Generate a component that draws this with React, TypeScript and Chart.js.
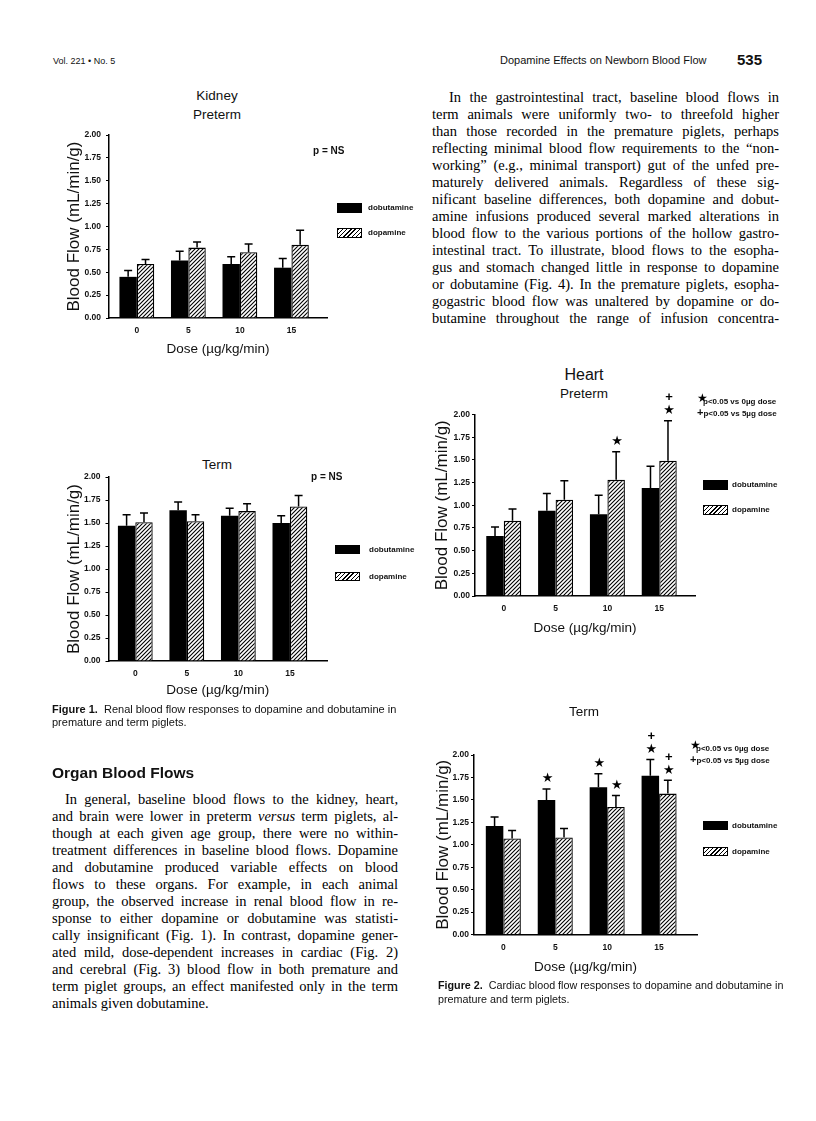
import React, { useEffect, useRef } from 'react';
import { Chart, registerables } from 'chart.js';

Chart.register(...registerables);

// ---------- data ----------
const doseLabels = ['0', '5', '10', '15'];
const yTickValues = [0, 0.25, 0.5, 0.75, 1, 1.25, 1.5, 1.75, 2];
const seriesNames = ['dobutamine', 'dopamine'];

const kidneyPretermDobutamine = [0.45, 0.63, 0.59, 0.55];
const kidneyPretermDobutamineErr = [0.07, 0.1, 0.08, 0.1];
const kidneyPretermDopamine = [0.59, 0.77, 0.72, 0.8];
const kidneyPretermDopamineErr = [0.05, 0.06, 0.09, 0.16];

const kidneyTermDobutamine = [1.47, 1.64, 1.58, 1.5];
const kidneyTermDobutamineErr = [0.12, 0.09, 0.08, 0.08];
const kidneyTermDopamine = [1.51, 1.52, 1.63, 1.68];
const kidneyTermDopamineErr = [0.1, 0.07, 0.08, 0.12];

const heartPretermDobutamine = [0.66, 0.94, 0.9, 1.19];
const heartPretermDobutamineErr = [0.1, 0.19, 0.21, 0.24];
const heartPretermDopamine = [0.83, 1.06, 1.28, 1.49];
const heartPretermDopamineErr = [0.13, 0.21, 0.31, 0.44];
const heartPretermDobutamineMarks = ['', '', '', ''];
const heartPretermDopamineMarks = ['', '', '*', '*+'];

const heartTermDobutamine = [1.21, 1.5, 1.64, 1.77];
const heartTermDobutamineErr = [0.1, 0.12, 0.15, 0.18];
const heartTermDopamine = [1.07, 1.08, 1.42, 1.57];
const heartTermDopamineErr = [0.09, 0.1, 0.13, 0.15];
const heartTermDobutamineMarks = ['', '*', '*', '*+'];
const heartTermDopamineMarks = ['', '', '*', '*+'];

const noMarks = ['', '', '', ''];

// ---------- text (segments between * are italic) ----------
const rightColumnLines = [
  'In the gastrointestinal tract, baseline blood flows in',
  'term animals were uniformly two- to threefold higher',
  'than those recorded in the premature piglets, perhaps',
  'reflecting minimal blood flow requirements to the \u201cnon-',
  'working\u201d (e.g., minimal transport) gut of the unfed pre-',
  'maturely delivered animals. Regardless of these sig-',
  'nificant baseline differences, both dopamine and dobut-',
  'amine infusions produced several marked alterations in',
  'blood flow to the various portions of the hollow gastro-',
  'intestinal tract. To illustrate, blood flows to the esopha-',
  'gus and stomach changed little in response to dopamine',
  'or dobutamine (Fig. 4). In the premature piglets, esopha-',
  'gogastric blood flow was unaltered by dopamine or do-',
  'butamine throughout the range of infusion concentra-',
];

const leftColumnLines = [
  'In general, baseline blood flows to the kidney, heart,',
  'and brain were lower in preterm *versus* term piglets, al-',
  'though at each given age group, there were no within-',
  'treatment differences in baseline blood flows. Dopamine',
  'and dobutamine produced variable effects on blood',
  'flows to these organs. For example, in each animal',
  'group, the observed increase in renal blood flow in re-',
  'sponse to either dopamine or dobutamine was statisti-',
  'cally insignificant (Fig. 1). In contrast, dopamine gener-',
  'ated mild, dose-dependent increases in cardiac (Fig. 2)',
  'and cerebral (Fig. 3) blood flow in both premature and',
  'term piglet groups, an effect manifested only in the term',
  'animals given dobutamine.',
];

const SANS = '"Liberation Sans", Arial, Helvetica, sans-serif';
const SERIF = '"Liberation Serif", "Times New Roman", serif';
const BODY_SIZE = 14.5;

let measureCtx: CanvasRenderingContext2D | null = null;
function measure(s: string, italic: boolean) {
  if (!measureCtx) measureCtx = document.createElement('canvas').getContext('2d');
  measureCtx!.font = `${italic ? 'italic ' : ''}${BODY_SIZE}px "Liberation Serif"`;
  return measureCtx!.measureText(s).width;
}

// ---------- chart helpers ----------
function makeHatch(ctx: CanvasRenderingContext2D) {
  const t = document.createElement('canvas');
  t.width = 4;
  t.height = 4;
  const g = t.getContext('2d')!;
  g.fillStyle = '#fff';
  g.fillRect(0, 0, 4, 4);
  g.strokeStyle = '#000';
  g.lineWidth = 1.1;
  g.beginPath();
  g.moveTo(0, 4);
  g.lineTo(4, 0);
  g.moveTo(-1, 1);
  g.lineTo(1, -1);
  g.moveTo(3, 5);
  g.lineTo(5, 3);
  g.stroke();
  return ctx.createPattern(t, 'repeat');
}

const errorBarPlugin = {
  id: 'errorBars',
  afterDatasetsDraw(chart: any) {
    const { ctx } = chart;
    const y = chart.scales.y;
    chart.data.datasets.forEach((ds: any, di: number) => {
      const meta = chart.getDatasetMeta(di);
      meta.data.forEach((bar: any, i: number) => {
        const v = ds.data[i].y;
        const top = y.getPixelForValue(v + ds.errors[i]);
        ctx.save();
        ctx.strokeStyle = '#000';
        ctx.lineWidth = 1.5;
        ctx.beginPath();
        ctx.moveTo(bar.x, bar.y);
        ctx.lineTo(bar.x, top);
        ctx.moveTo(bar.x - 4, top);
        ctx.lineTo(bar.x + 4, top);
        ctx.stroke();
        const marks: string = (ds.marks && ds.marks[i]) || '';
        let yy = top - 10;
        ctx.fillStyle = '#000';
        ctx.textAlign = 'center';
        ctx.textBaseline = 'middle';
        for (const m of marks) {
          if (m === '*') {
            ctx.font = '13px "DejaVu Sans"';
            ctx.fillText('\u2605', bar.x + 1, yy);
          } else {
            ctx.font = 'bold 13px "Liberation Sans"';
            ctx.fillText('+', bar.x + 1, yy);
          }
          yy -= 13;
        }
        ctx.restore();
      });
    });
  },
};

type Layout = {
  canvasLeft: number;
  canvasTop: number;
  canvasBottom: number;
  plotLeft: number;
  plotRight: number;
  plotTop: number;
  plotBottom: number;
  xMin: number;
  xMax: number;
  doseY: number;
  yTitleX: number;
  yTickPad: number;
  xTickPad: number;
};

function BarPanel(props: {
  layout: Layout;
  dobutamine: number[];
  dobutamineErr: number[];
  dopamine: number[];
  dopamineErr: number[];
  dobutamineMarks: string[];
  dopamineMarks: string[];
}) {
  const ref = useRef<HTMLCanvasElement>(null);
  const L = props.layout;
  const rightPad = 13;
  const width = L.plotRight + rightPad - L.canvasLeft;
  const height = L.canvasBottom - L.canvasTop;

  useEffect(() => {
    const canvas = ref.current!;
    const ctx = canvas.getContext('2d')!;
    const hatch = makeHatch(ctx);
    const tickFont = { family: SANS, size: 8.5, weight: 'bold' as const };
    const chart = new Chart(canvas, {
      type: 'bar',
      data: {
        datasets: [
          {
            label: seriesNames[0],
            data: props.dobutamine.map((v, i) => ({ x: i, y: v })),
            backgroundColor: '#000',
            borderColor: '#000',
            borderWidth: 0,
            errors: props.dobutamineErr,
            marks: props.dobutamineMarks,
          } as any,
          {
            label: seriesNames[1],
            data: props.dopamine.map((v, i) => ({ x: i, y: v })),
            backgroundColor: hatch,
            borderColor: '#000',
            borderWidth: 1.3,
            errors: props.dopamineErr,
            marks: props.dopamineMarks,
          } as any,
        ],
      },
      options: {
        animation: false,
        responsive: false,
        maintainAspectRatio: false,
        events: [],
        layout: { padding: { top: L.plotTop - L.canvasTop, right: rightPad, left: 0, bottom: 0 } },
        datasets: { bar: { categoryPercentage: 0.675, barPercentage: 1 } },
        plugins: { legend: { display: false }, tooltip: { enabled: false } },
        scales: {
          x: {
            type: 'linear',
            offset: false,
            min: L.xMin,
            max: L.xMax,
            afterBuildTicks: (s: any) => {
              s.ticks = doseLabels.map((_, i) => ({ value: i }));
            },
            afterFit: (s: any) => {
              s.height = L.canvasBottom - L.plotBottom;
            },
            ticks: {
              autoSkip: false,
              maxRotation: 0,
              color: '#111',
              font: tickFont,
              padding: L.xTickPad,
              callback: (v: any) => doseLabels[Math.round(v)] ?? '',
            },
            grid: { display: false, drawTicks: false, offset: false },
            border: { display: true, color: '#000', width: 1.5 },
            title: {
              display: true,
              text: 'Dose (\u00b5g/kg/min)',
              color: '#111',
              font: { family: SANS, size: 13.5 },
              padding: { top: 0, bottom: L.canvasBottom - L.doseY - 8.1 },
            },
          },
          y: {
            type: 'linear',
            min: 0,
            max: 2,
            afterBuildTicks: (s: any) => {
              s.ticks = yTickValues.map((v) => ({ value: v }));
            },
            afterFit: (s: any) => {
              s.width = L.plotLeft - L.canvasLeft;
            },
            ticks: {
              color: '#111',
              font: tickFont,
              padding: L.yTickPad,
              callback: (v: any) => Number(v).toFixed(2),
            },
            grid: { drawOnChartArea: false, drawTicks: true, tickLength: 3, color: '#000', lineWidth: 1 },
            border: { display: true, color: '#000', width: 1.5 },
            title: {
              display: true,
              text: 'Blood Flow (mL/min/g)',
              color: '#111',
              font: { family: SANS, size: 17 },
              padding: { top: L.yTitleX - L.canvasLeft - 10.2, bottom: 0 },
            },
          },
        },
      } as any,
      plugins: [errorBarPlugin],
    });
    return () => chart.destroy();
  }, []);

  return (
    <canvas
      ref={ref}
      width={width}
      height={height}
      style={{ position: 'absolute', left: L.canvasLeft, top: L.canvasTop, width, height }}
    />
  );
}

// ---------- html helpers ----------
function T(p: {
  x: number;
  y: number;
  size: number;
  bold?: boolean;
  center?: boolean;
  family?: string;
  children: React.ReactNode;
}) {
  return (
    <div
      style={{
        position: 'absolute',
        left: p.x,
        top: p.y - p.size * 0.6,
        fontSize: p.size,
        lineHeight: `${p.size * 1.2}px`,
        fontFamily: p.family || SANS,
        fontWeight: p.bold ? 'bold' : 'normal',
        whiteSpace: 'nowrap',
        color: '#111',
        transform: p.center ? 'translateX(-50%)' : undefined,
      }}
    >
      {p.children}
    </div>
  );
}

function Legend(p: { x: number; y1: number; y2: number; h: number; labelX: number }) {
  const box = (top: number, hatched: boolean) => (
    <div
      style={{
        position: 'absolute',
        left: p.x,
        top,
        width: 25,
        height: p.h,
        boxSizing: 'border-box',
        border: '1px solid #000',
        background: hatched
          ? 'repeating-linear-gradient(135deg, #000 0px, #000 1px, #fff 1px, #fff 3px)'
          : '#000',
      }}
    />
  );
  return (
    <>
      {box(p.y1, false)}
      {box(p.y2, true)}
      <T x={p.labelX} y={p.y1 + p.h / 2} size={8} bold>
        {seriesNames[0]}
      </T>
      <T x={p.labelX} y={p.y2 + p.h / 2} size={8} bold>
        {seriesNames[1]}
      </T>
    </>
  );
}

function SigKey(p: { x: number; y: number }) {
  return (
    <>
      <div
        style={{
          position: 'absolute',
          left: p.x,
          top: p.y - 9,
          fontSize: 12,
          lineHeight: '14px',
          fontFamily: '"DejaVu Sans"',
          color: '#000',
        }}
      >
        {'\u2605'}
      </div>
      <T x={p.x + 6} y={p.y + 2} size={8} bold>
        p&lt;0.05 vs 0µg dose
      </T>
      <T x={p.x} y={p.y + 13} size={8} bold>
        <span style={{ fontSize: 11 }}>+</span>p&lt;0.05 vs 5µg dose
      </T>
    </>
  );
}

function JLine(p: { x: number; y: number; w: number; indent: number; last?: boolean; text: string }) {
  const parts = p.text.split('*');
  const natural = parts.reduce((acc, s, i) => acc + measure(s, i % 2 === 1), 0);
  const spaces = (p.text.match(/ /g) || []).length;
  const avail = p.w - p.indent;
  const ws = p.last || spaces === 0 ? 0 : (avail - natural) / spaces;
  return (
    <div
      style={{
        position: 'absolute',
        left: p.x + p.indent,
        top: p.y - 9,
        width: avail + 20,
        fontFamily: SERIF,
        fontSize: BODY_SIZE,
        lineHeight: '18px',
        whiteSpace: 'pre',
        wordSpacing: `${ws}px`,
        color: '#000',
      }}
    >
      {parts.map((s, i) => (i % 2 === 1 ? <i key={i}>{s}</i> : <span key={i}>{s}</span>))}
    </div>
  );
}

// ---------- layouts ----------
const kidneyPretermLayout: Layout = {
  canvasLeft: 55, canvasTop: 125, canvasBottom: 362,
  plotLeft: 109, plotRight: 327, plotTop: 135, plotBottom: 318,
  xMin: -0.54, xMax: 3.69, doseY: 349, yTitleX: 74.5, yTickPad: 5, xTickPad: 8,
};
const kidneyTermLayout: Layout = {
  canvasLeft: 55, canvasTop: 467, canvasBottom: 705,
  plotLeft: 108.5, plotRight: 327, plotTop: 477, plotBottom: 661,
  xMin: -0.52, xMax: 3.72, doseY: 690, yTitleX: 74.5, yTickPad: 5, xTickPad: 8,
};
const heartPretermLayout: Layout = {
  canvasLeft: 423, canvasTop: 380, canvasBottom: 641,
  plotLeft: 475, plotRight: 695, plotTop: 414.5, plotBottom: 596,
  xMin: -0.555, xMax: 3.69, doseY: 628, yTitleX: 442, yTickPad: 2, xTickPad: 8,
};
const heartTermLayout: Layout = {
  canvasLeft: 423, canvasTop: 722, canvasBottom: 981,
  plotLeft: 474, plotRight: 697, plotTop: 755, plotBottom: 934.5,
  xMin: -0.565, xMax: 3.73, doseY: 967, yTitleX: 443, yTickPad: 2, xTickPad: 8,
};

export default function App() {
  return (
    <div
      style={{
        position: 'absolute',
        left: 0,
        top: 0,
        width: 816,
        height: 1121,
        background: '#fff',
        overflow: 'hidden',
      }}
    >
      {/* running head */}
      <T x={53} y={61} size={9}>Vol. 221 • No. 5</T>
      <T x={500} y={61} size={11}>Dopamine Effects on Newborn Blood Flow</T>
      <T x={737} y={60} size={15} bold>535</T>

      {/* Figure 1 */}
      <T x={217} y={96} size={13.5} center>Kidney</T>
      <T x={217} y={115} size={13.5} center>Preterm</T>
      <BarPanel
        layout={kidneyPretermLayout}
        dobutamine={kidneyPretermDobutamine}
        dobutamineErr={kidneyPretermDobutamineErr}
        dopamine={kidneyPretermDopamine}
        dopamineErr={kidneyPretermDopamineErr}
        dobutamineMarks={noMarks}
        dopamineMarks={noMarks}
      />
      <T x={313} y={151} size={10} bold>p = NS</T>
      <Legend x={337} y1={203} y2={228} h={10} labelX={368} />

      <T x={217} y={465} size={13.5} center>Term</T>
      <BarPanel
        layout={kidneyTermLayout}
        dobutamine={kidneyTermDobutamine}
        dobutamineErr={kidneyTermDobutamineErr}
        dopamine={kidneyTermDopamine}
        dopamineErr={kidneyTermDopamineErr}
        dobutamineMarks={noMarks}
        dopamineMarks={noMarks}
      />
      <T x={311} y={477} size={10} bold>p = NS</T>
      <Legend x={335} y1={545} y2={572} h={9} labelX={369} />

      <T x={52} y={710} size={11}>
        <b>Figure 1.</b>&nbsp; Renal blood flow responses to dopamine and dobutamine in
      </T>
      <T x={52} y={723} size={11}>premature and term piglets.</T>

      {/* Organ Blood Flows */}
      <T x={52} y={773} size={15.5} bold>Organ Blood Flows</T>
      {leftColumnLines.map((line, i) => (
        <JLine
          key={'l' + i}
          x={52}
          y={799 + i * 17}
          w={346}
          indent={i === 0 ? 13 : 0}
          last={i === leftColumnLines.length - 1}
          text={line}
        />
      ))}

      {/* right column text */}
      {rightColumnLines.map((line, i) => (
        <JLine key={'r' + i} x={432} y={97 + i * 17} w={347} indent={i === 0 ? 17 : 0} text={line} />
      ))}

      {/* Figure 2 */}
      <T x={584} y={375} size={16} center>Heart</T>
      <T x={584} y={394} size={13.5} center>Preterm</T>
      <BarPanel
        layout={heartPretermLayout}
        dobutamine={heartPretermDobutamine}
        dobutamineErr={heartPretermDobutamineErr}
        dopamine={heartPretermDopamine}
        dopamineErr={heartPretermDopamineErr}
        dobutamineMarks={heartPretermDobutamineMarks}
        dopamineMarks={heartPretermDopamineMarks}
      />
      <SigKey x={697} y={400} />
      <Legend x={703} y1={480} y2={505} h={10} labelX={732} />

      <T x={584} y={712} size={13.5} center>Term</T>
      <BarPanel
        layout={heartTermLayout}
        dobutamine={heartTermDobutamine}
        dobutamineErr={heartTermDobutamineErr}
        dopamine={heartTermDopamine}
        dopamineErr={heartTermDopamineErr}
        dobutamineMarks={heartTermDobutamineMarks}
        dopamineMarks={heartTermDopamineMarks}
      />
      <SigKey x={690} y={747} />
      <Legend x={703} y1={821} y2={847} h={9} labelX={732} />

      <T x={438} y={985} size={10.75}>
        <b>Figure 2.</b>&nbsp; Cardiac blood flow responses to dopamine and dobutamine in
      </T>
      <T x={438} y={999} size={10.75}>premature and term piglets.</T>
    </div>
  );
}
